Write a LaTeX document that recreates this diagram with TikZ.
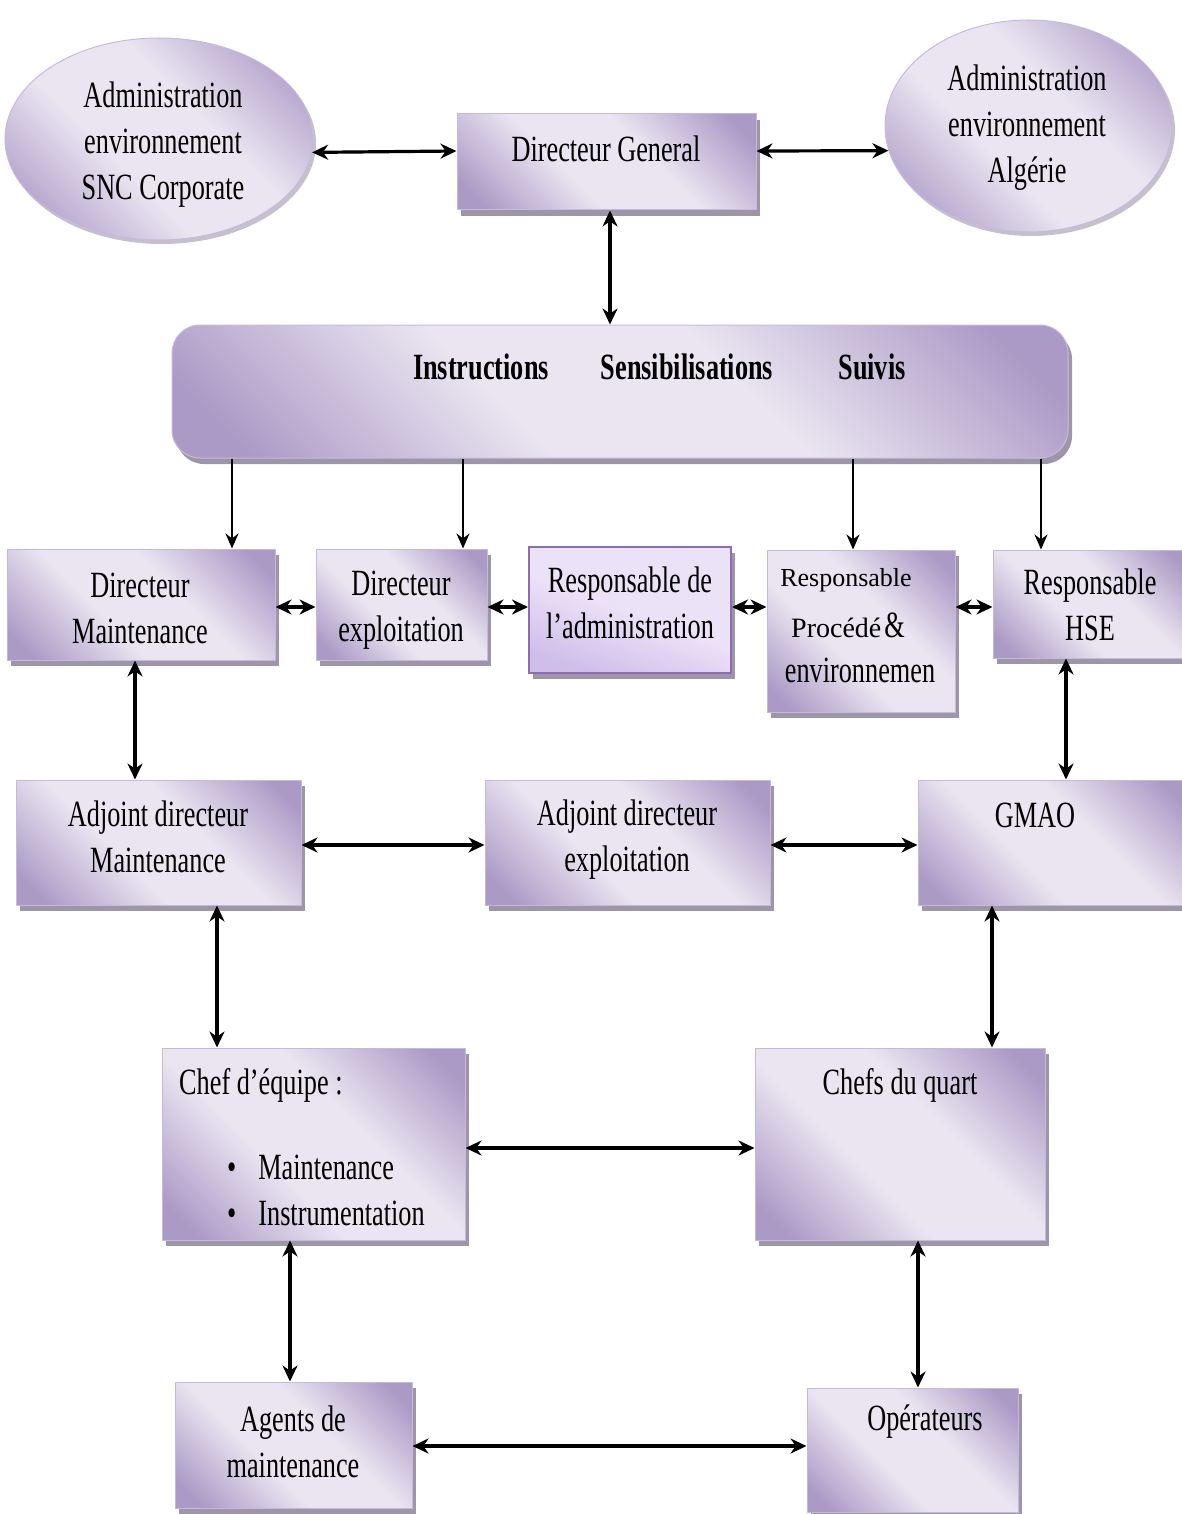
\documentclass[tikz,border=0pt]{standalone}
\usepackage{fontspec}
\setmainfont{Liberation Serif}
\newfontfamily\cond{Liberation Serif}[FakeStretch=0.71]
\usetikzlibrary{arrows.meta,shapes.geometric,shadows}

\definecolor{pdark}{RGB}{172,154,198}
\definecolor{plight}{RGB}{234,229,241}
\definecolor{pedge}{RGB}{198,186,220}
\definecolor{pshadow}{RGB}{158,150,168}
\definecolor{alight}{RGB}{236,226,248}
\definecolor{adark}{RGB}{208,190,234}
\definecolor{aedge}{RGB}{140,110,176}

% diagonal sheen: dark corners, wide light band across the middle
\pgfdeclareverticalshading{sheen}{100bp}{color(0bp)=(pdark); color(20bp)=(pdark);
  color(41bp)=(plight); color(59bp)=(plight); color(80bp)=(pdark); color(100bp)=(pdark)}
\pgfdeclareverticalshading{adminsheen}{100bp}{color(0bp)=(adark); color(25bp)=(adark);
  color(50bp)=(alight); color(75bp)=(alight); color(100bp)=(alight)}

\newcommand\bodyfont{\cond\fontsize{37}{46}\selectfont}
\newcommand\smallbody{\fontsize{26}{30}\selectfont}

\tikzset{
  sheenfill/.style={shading=sheen, shading angle=-45},
  shadowed/.style={drop shadow={shadow xshift=4pt, shadow yshift=-6pt, fill=pshadow, opacity=1}},
  box/.style={rectangle, inner sep=0pt, draw=pedge, line width=1pt, sheenfill, shadowed},
  adminbox/.style={rectangle, inner sep=0pt, draw=aedge, line width=2pt,
    shading=adminsheen, shading angle=-20, shadowed},
  oval/.style={ellipse, inner sep=0pt, draw=pedge, line width=1pt, sheenfill,
    drop shadow={shadow xshift=3pt, shadow yshift=-4pt, fill=pshadow, opacity=0.6}},
  banner/.style={rectangle, rounded corners=28pt, inner sep=0pt, draw=pedge, line width=1pt, sheenfill, shadowed},
  txt/.style={inner sep=0pt, align=center, font=\bodyfont},
  btxt/.style={inner sep=0pt, font=\bodyfont\bfseries},
  dar/.style={{Stealth[length=16pt, width=15pt]}-{Stealth[length=16pt, width=15pt]}, line width=3.2pt},
  sar/.style={-{Stealth[length=15pt, width=13pt]}, line width=2.2pt},
}

\begin{document}
\begin{tikzpicture}[x=1pt, y=-1pt]
\useasboundingbox (0,0) rectangle (1182,1514);

% top level
\node[oval, minimum width=308pt, minimum height=202pt] (ellL) at (159,139) {};
\node[oval, minimum width=287pt, minimum height=212pt] (ellR) at (1028.5,126) {};
\node[box, minimum width=299pt, minimum height=96pt] (dg) at (606.5,162) {};
\node[banner, minimum width=896pt, minimum height=133pt] (ban) at (620,391.5) {};

% second row
\node[box, minimum width=268pt, minimum height=111pt] (dm) at (141,604.5) {};
\node[box, minimum width=171pt, minimum height=111pt] (de) at (401.5,604.5) {};
\node[adminbox, minimum width=202pt, minimum height=126pt] (ra) at (630,610) {};
\node[box, minimum width=188pt, minimum height=162pt] (rp) at (861,631) {};
\node[box, minimum width=197pt, minimum height=108pt] (rh) at (1091.5,604) {};

% third row
\node[box, minimum width=285pt, minimum height=125pt] (adm) at (158.5,842.5) {};
\node[box, minimum width=285pt, minimum height=125pt] (ade) at (627.5,842.5) {};
\node[box, minimum width=272pt, minimum height=125pt] (gm) at (1054,842.5) {};

% fourth row
\node[box, minimum width=303pt, minimum height=192pt] (ce) at (313.5,1144) {};
\node[box, minimum width=290pt, minimum height=192pt] (cq) at (900,1144) {};

% bottom row
\node[box, minimum width=237pt, minimum height=126pt] (ag) at (293.5,1445) {};
\node[box, minimum width=211pt, minimum height=124pt] (op) at (912.5,1450) {};

% labels
\node[txt] (tEllL) at (163,145) {Administration\\environnement\\SNC Corporate};
\node[txt] (tEllR) at (1027,128) {Administration\\environnement\\Algérie};
\node[txt] (tDg) at (606,149) {Directeur General};
\node[btxt] (tIns) at (481,367) {Instructions};
\node[btxt] (tSen) at (687,367) {Sensibilisations};
\node[btxt] (tSui) at (872,367) {Suivis};
\node[txt] (tDm) at (140,608) {Directeur\\Maintenance};
\node[txt] (tDe) at (401,610) {Directeur\\exploitation};
\node[txt] (tRa) at (630,603) {Responsable de\\l’administration};
\node[inner sep=0pt, font=\smallbody] (tRp1) at (846,580) {Responsable};
\node[inner sep=0pt] (tRp2) at (848,625) {{\fontsize{28}{30}\selectfont Procédé}\hspace{3pt}{\bodyfont\&}};
\node[txt] (tRp3) at (860,670) {environnemen};
\node[txt] (tRh) at (1090,605) {Responsable\\HSE};
\node[txt] (tAdm) at (158,837) {Adjoint directeur\\Maintenance};
\node[txt] (tAde) at (627,840) {Adjoint directeur\\exploitation};
\node[txt] (tGm) at (1035,815) {GMAO};
\node[txt, anchor=west] (tCe) at (179,1085) {Chef d’équipe :};
\node[txt, anchor=west, align=left] (tCeL) at (227,1190)
  {\textbullet\hspace{22pt}Maintenance\\\textbullet\hspace{22pt}Instrumentation};
\node[txt] (tCq) at (900,1085) {Chefs du quart};
\node[txt] (tAg) at (293,1442) {Agents de\\maintenance};
\node[txt] (tOp) at (925,1422) {Opérateurs};

% connectors
\draw[dar] (ellL.355.5) -- ([yshift=11pt]dg.west);
\draw[dar] ([yshift=11pt]dg.east) -- (ellR.190.2);
\draw[dar] ([xshift=3.5pt]dg.south) -- ([xshift=-10pt]ban.north);

\draw[sar] ([xshift=-388pt]ban.south) -- ([xshift=91pt]dm.north);
\draw[sar] ([xshift=-157pt]ban.south) -- ([xshift=61.5pt]de.north);
\draw[sar] ([xshift=233pt]ban.south) -- ([xshift=-8pt]rp.north);
\draw[sar] ([xshift=421pt]ban.south) -- ([xshift=-50.5pt]rh.north);

\draw[dar] ([yshift=-2.5pt]dm.east) -- ([yshift=-2.5pt]de.west);
\draw[dar] ([yshift=-2.5pt]de.east) -- ([yshift=3pt]ra.west);
\draw[dar] ([yshift=3pt]ra.east) -- ([yshift=24pt]rp.west);
\draw[dar] ([yshift=24pt]rp.east) -- ([yshift=-3pt]rh.west);

\draw[dar] ([xshift=-6pt]dm.south) -- ([xshift=-23.5pt]adm.north);
\draw[dar] ([xshift=-25.5pt]rh.south) -- ([xshift=12pt]gm.north);

\draw[dar] ([yshift=-2.5pt]adm.east) -- ([yshift=-2.5pt]ade.west);
\draw[dar] ([yshift=-2.5pt]ade.east) -- ([yshift=-2.5pt]gm.west);

\draw[dar] ([xshift=58.5pt]adm.south) -- ([xshift=-96.5pt]ce.north);
\draw[dar] ([xshift=-62pt]gm.south) -- ([xshift=92pt]cq.north);

\draw[dar] ([yshift=-4pt]ce.east) -- ([yshift=-4pt]cq.west);

\draw[dar] ([xshift=-23.5pt]ce.south) -- ([xshift=-3.5pt]ag.north);
\draw[dar] ([xshift=18pt]cq.south) -- ([xshift=5.5pt]op.north);

\draw[dar] ([yshift=-1pt]ag.east) -- ([yshift=4pt]op.west);
\end{tikzpicture}
\end{document}
